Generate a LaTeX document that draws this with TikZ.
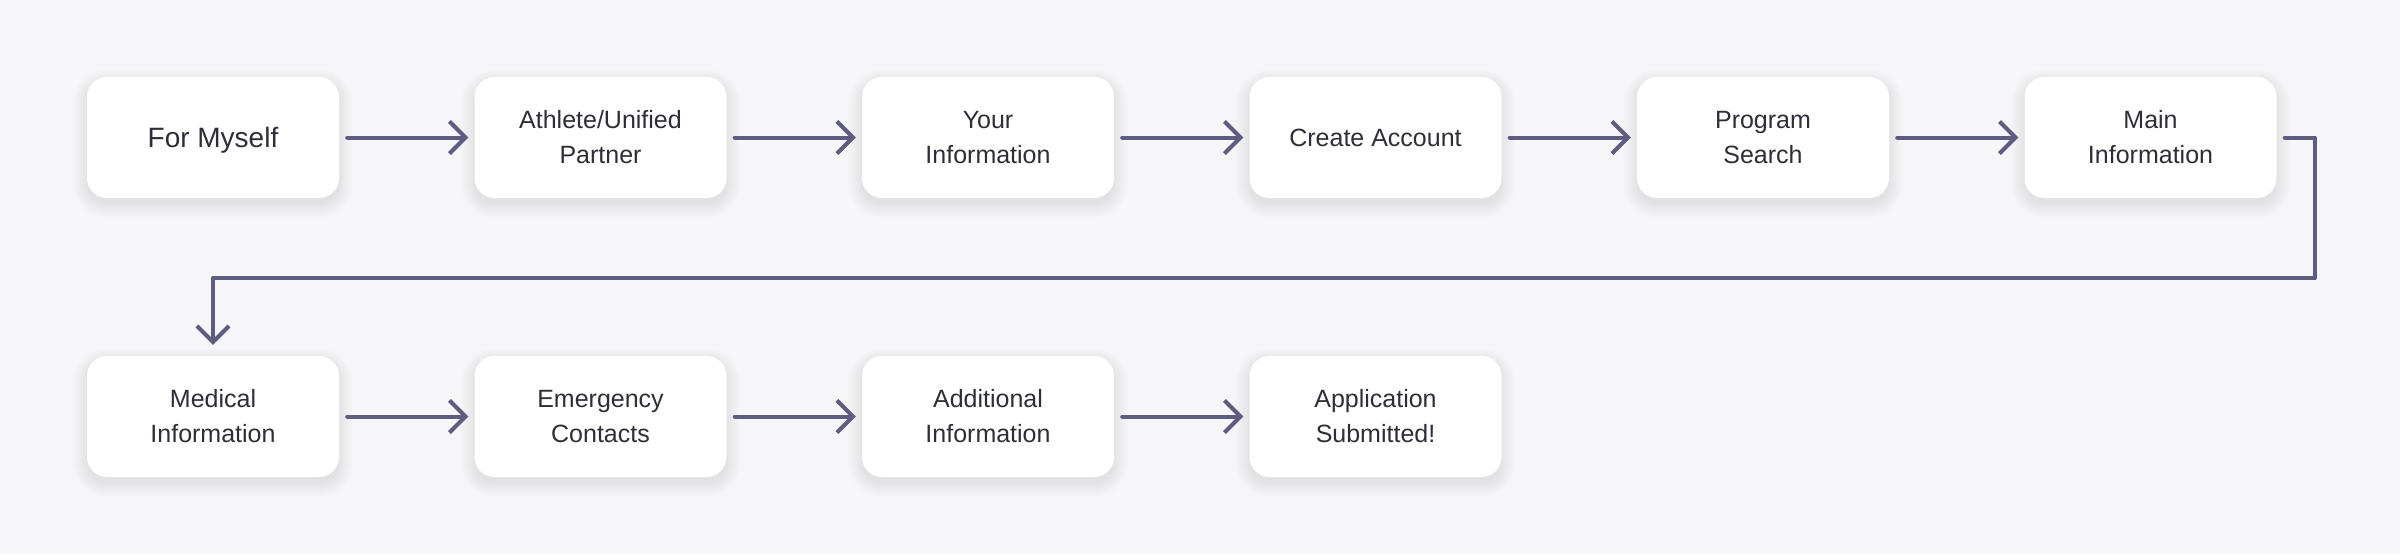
\documentclass[tikz,border=0pt]{standalone}
\usepackage{fontspec}
\setmainfont{Liberation Sans}
\usetikzlibrary{arrows.meta}
\definecolor{bgc}{HTML}{F6F6F8}
\definecolor{arc}{HTML}{5E5C80}
\definecolor{txc}{HTML}{2E2E38}
\pgfdeclarelayer{bgl}
\pgfdeclarelayer{shl}
\pgfsetlayers{bgl,shl,main}
\tikzset{
  stepbox/.style={draw=none, fill=white, rounded corners=20pt, minimum width=252pt, minimum height=121pt,
    inner sep=0pt, align=center, text=txc, font=\fontsize{25}{35}\selectfont},
  conn/.style={draw=arc, line width=4pt, line cap=round, line join=round,
    -{Straight Barb[length=16pt,width=32pt]}, shorten <=8pt, shorten >=6pt}
}
\begin{document}
\begin{tikzpicture}[x=1pt,y=-1pt]
\begin{pgfonlayer}{bgl}
\fill[bgc] (0,0) rectangle (2400,554);
\end{pgfonlayer}
\useasboundingbox (0,0) rectangle (2400,554);
\node[stepbox, font=\fontsize{28}{35}\selectfont] (n1) at (213,137.5) {\raisebox{-10pt}[0pt][0pt]{For Myself}};
\node[stepbox] (n2) at (600.5,137.5) {Athlete/Unified\\Partner};
\node[stepbox] (n3) at (988,137.5) {Your\\Information};
\node[stepbox] (n4) at (1375.5,137.5) {\raisebox{-9pt}[0pt][0pt]{Create Account}};
\node[stepbox] (n5) at (1763,137.5) {Program\\Search};
\node[stepbox] (n6) at (2150.5,137.5) {Main\\Information};
\node[stepbox] (n7) at (213,416.5) {Medical\\Information};
\node[stepbox] (n8) at (600.5,416.5) {Emergency\\Contacts};
\node[stepbox] (n9) at (988,416.5) {Additional\\Information};
\node[stepbox] (n10) at (1375.5,416.5) {Application\\Submitted!};
\begin{pgfonlayer}{shl}
\foreach \n in {n1,n2,n3,n4,n5,n6,n7,n8,n9,n10}{
  \foreach \e in {0,1.5,3,4.5,6,7.5,9,10.5,12,13.5}{
    \pgfmathsetmacro\r{20+\e}
    \fill[black, opacity=0.007, rounded corners=\r pt]
      ([xshift=-\e pt, yshift={-6pt-\e pt}]\n.south west) rectangle
      ([xshift=\e pt, yshift={-6pt+\e pt}]\n.north east);
  }
}
\end{pgfonlayer}
\coordinate (turn) at (2315,278);
\draw[conn] (n1) -- (n2);
\draw[conn] (n2) -- (n3);
\draw[conn] (n3) -- (n4);
\draw[conn] (n4) -- (n5);
\draw[conn] (n5) -- (n6);
\draw[conn, shorten >=11pt] (n6.east) -| (turn) -| (n7.north);
\draw[conn] (n7) -- (n8);
\draw[conn] (n8) -- (n9);
\draw[conn] (n9) -- (n10);
\end{tikzpicture}
\end{document}
